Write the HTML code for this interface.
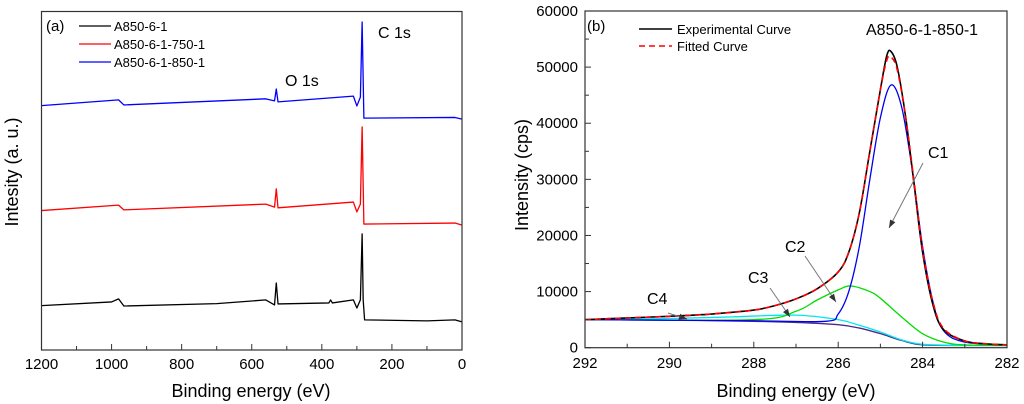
<!DOCTYPE html>
<html><head><meta charset="utf-8"><style>
html,body{margin:0;padding:0;background:#fff;width:1024px;height:404px;overflow:hidden}
svg{font-family:"Liberation Sans",Arial,sans-serif}
</style></head><body>
<svg id="chart" width="1024" height="404" viewBox="0 0 1024 404">
<g id="pa"></g>
<g id="pb"></g>
</svg>
<script>
// Panel (a) survey spectra (binding energy eV, intensity a.u. 0-100)
const aBlackE=[1200,1000,980,965,700,560,535,530,525,380,375,370,310,300,290,285,282,278,100,20,0];
const aBlackI=[13.1,14.2,15.1,13.0,13.7,14.8,13.3,19.8,13.6,13.9,14.8,13.9,14.8,12.4,14.8,34.3,14.8,8.9,8.6,8.9,8.3];
const aRedE=[1200,980,965,560,535,530,525,310,300,290,285,280,20,0];
const aRedI=[41.2,42.8,41.4,43.1,42.2,47.6,42.0,43.7,40.8,43.1,65.9,37.2,37.5,36.9];
const aBlueE=[1200,980,965,560,535,530,525,310,300,290,285,280,20,0];
const aBlueI=[72.2,73.9,72.4,74.2,73.6,77.1,73.3,75.0,72.1,74.7,96.9,68.5,68.7,68.2];
const aXTicks=[1200,1000,800,600,400,200,0];
// Panel (b) C 1s fit
const bExpE=[292,291,290,289,288,287.5,287,286.5,286,285.75,285.5,285.25,285,284.85,284.75,284.6,284.4,284.2,284,283.75,283.5,283,282.5,282];
const bExpI=[5000,5300,5600,6000,6700,7500,8700,10500,13500,17000,24000,35000,46000,52000,52800,50000,41000,29000,17000,7500,3200,1200,700,500];
const bFitE=[292,291,290,289,288,287.5,287,286.5,286,285.75,285.5,285.25,285,284.85,284.75,284.6,284.4,284.2,284,283.75,283.5,283,282.5,282];
const bFitI=[5000,5300,5600,6000,6700,7500,8700,10500,13500,17000,24000,35000,46000,51200,51800,49500,41000,29500,17500,8000,3400,1200,700,500];
const bC1E=[292,290,288,286.3,286,285.75,285.5,285.25,285,284.75,284.5,284.25,284,283.75,283.5,283,282];
const bC1I=[5000,4900,4800,4700,6000,10000,18000,30000,41000,46800,43000,32000,18000,8000,3000,1000,500];
const bC2E=[292,288,287,286.5,286,285.7,285.25,285,284.5,284,283.5,283,282];
const bC2I=[5000,5000,6500,8500,10300,11000,10000,8800,5500,2500,1000,500,400];
const bC3E=[292,290,288.5,287,286,285.5,285,284.5,284,283,282];
const bC3I=[5000,5200,5500,5800,5000,4000,2800,1400,600,400,400];
const bBgE=[292,290,288,287,286,285.5,285,284.5,284,283,282];
const bBgI=[5000,4900,4700,4500,4100,3500,2500,1300,500,400,400];
const bXTicks=[292,290,288,286,284,282];
const bYTicks=[0,10000,20000,30000,40000,50000,60000];

const NS="http://www.w3.org/2000/svg";
function mk(p,t,a,txt){const e=document.createElementNS(NS,t);for(const k in a)e.setAttribute(k,a[k]);if(txt!==undefined)e.textContent=txt;p.appendChild(e);return e;}
const pa=document.getElementById('pa'),pb=document.getElementById('pb');

const aL=41.5,aR=462,aT=11.5,aB=350;
const ax=e=>aL+(1200-e)/1200*(aR-aL), ay=v=>aB-v/100*(aB-aT);
function line(p,E,I,fx,fy,col,name,extra,smooth){
  const P=E.map((e,i)=>[fx(e),fy(I[i])]);
  let d='M'+P[0][0].toFixed(2)+','+P[0][1].toFixed(2);
  for(let i=1;i<P.length;i++){
    if(!smooth){d+='L'+P[i][0].toFixed(2)+','+P[i][1].toFixed(2);continue;}
    const p0=P[Math.max(0,i-2)],p1=P[i-1],p2=P[i],p3=P[Math.min(P.length-1,i+1)];
    const c1=[p1[0]+(p2[0]-p0[0])/6,p1[1]+(p2[1]-p0[1])/6];
    const c2=[p2[0]-(p3[0]-p1[0])/6,p2[1]-(p3[1]-p1[1])/6];
    d+='C'+c1.map(v=>v.toFixed(2)).join(',')+' '+c2.map(v=>v.toFixed(2)).join(',')+' '+p2[0].toFixed(2)+','+p2[1].toFixed(2);
  }
  const el=mk(p,'path',Object.assign({d:d,fill:'none',stroke:col,'stroke-width':1.3,'stroke-linejoin':'round'},extra||{}));
  
  
}
line(pa,aBlackE,aBlackI,ax,ay,'#000','series-a850-6-1');
line(pa,aRedE,aRedI,ax,ay,'#f00','series-a850-6-1-750-1');
line(pa,aBlueE,aBlueI,ax,ay,'#00f','series-a850-6-1-850-1');
let f=mk(pa,'rect',{x:aL,y:aT,width:aR-aL,height:aB-aT,fill:'none',stroke:'#333','stroke-width':1.2});


for(let e=1200;e>=0;e-=100){mk(pa,'line',{x1:ax(e),x2:ax(e),y1:aB,y2:aB-(e%200===0?6:4),stroke:'#333'});}
aXTicks.forEach(e=>{const t=mk(pa,'text',{x:ax(e),y:369,'font-size':15,'text-anchor':'middle'},String(e));

});
let t;
t=mk(pa,'text',{x:251,y:397,'font-size':18,'text-anchor':'middle'},'Binding energy (eV)');
t=mk(pa,'text',{x:0,y:0,'font-size':18,'text-anchor':'middle',transform:'translate(18,172) rotate(-90)'},'Intesity (a. u.)');
t=mk(pa,'text',{x:46,y:31,'font-size':15},'(a)');
t=mk(pa,'text',{x:285,y:86,'font-size':16},'O 1s');
t=mk(pa,'text',{x:378,y:38,'font-size':16},'C 1s');
[['#000','A850-6-1'],['#f00','A850-6-1-750-1'],['#00f','A850-6-1-850-1']].forEach((s,i)=>{
 const y=26+i*18;const g=mk(pa,'g',{});
 
 
 mk(g,'line',{x1:79,x2:111,y1:y,y2:y,stroke:s[0],'stroke-width':1.3});
 mk(g,'text',{x:114,y:y+5,'font-size':13},s[1]);
});

const bL=585,bR=1007,bT=11,bB=347.7;
const bx=e=>bL+(292-e)/10*(bR-bL), by=v=>bB-v/60000*(bB-bT);
line(pb,bBgE,bBgI,bx,by,'#4b2a8c','background-line',null,true);
line(pb,bC3E,bC3I,bx,by,'#00e5f0','peak-c3',null,true);
line(pb,bC2E,bC2I,bx,by,'#00dd00','peak-c2',null,true);
line(pb,bC1E,bC1I,bx,by,'#0000ee','peak-c1',null,true);
line(pb,bExpE,bExpI,bx,by,'#000','experimental-curve',{'stroke-width':1.6},true);
line(pb,bFitE,bFitI,bx,by,'#f00','fitted-curve',{'stroke-dasharray':'6,4','stroke-width':1.6},true);
f=mk(pb,'rect',{x:bL,y:bT,width:bR-bL,height:bB-bT,fill:'none',stroke:'#333','stroke-width':1.2});


for(let e=292;e>=282;e-=1){mk(pb,'line',{x1:bx(e),x2:bx(e),y1:bB,y2:bB-(e%2===0?6:4),stroke:'#333'});}
for(let v=0;v<=60000;v+=5000){mk(pb,'line',{x1:bL,x2:bL+(v%10000===0?6:4),y1:by(v),y2:by(v),stroke:'#333'});}
bXTicks.forEach(e=>{const q=mk(pb,'text',{x:bx(e),y:368,'font-size':15,'text-anchor':'middle'},String(e));

});
bYTicks.forEach(v=>{const q=mk(pb,'text',{x:578,y:by(v)+5,'font-size':15,'text-anchor':'end'},String(v));

});
t=mk(pb,'text',{x:796,y:397,'font-size':18,'text-anchor':'middle'},'Binding energy (eV)');
t=mk(pb,'text',{x:0,y:0,'font-size':18,'text-anchor':'middle',transform:'translate(528,175) rotate(-90)'},'Intensity (cps)');
t=mk(pb,'text',{x:587,y:31,'font-size':15},'(b)');
t=mk(pb,'text',{x:866,y:35,'font-size':16},'A850-6-1-850-1');
let g=mk(pb,'g',{});
mk(g,'line',{x1:639,x2:672,y1:29,y2:29,stroke:'#000','stroke-width':1.5});mk(g,'text',{x:677,y:34,'font-size':13},'Experimental Curve');
g=mk(pb,'g',{});
mk(g,'line',{x1:639,x2:672,y1:46,y2:46,stroke:'#f00','stroke-width':1.5,'stroke-dasharray':'6,4'});mk(g,'text',{x:677,y:51,'font-size':13},'Fitted Curve');
[['C1',928,158,923,163,889,228],['C2',785,252,805,256,836,302],['C3',748,283,770,288,790,317],['C4',647,304,668,313,687,319]].forEach(a=>{
 const q=mk(pb,'g',{});
 
 
 mk(q,'text',{x:a[1],y:a[2],'font-size':16},a[0]);
 mk(q,'line',{x1:a[3],y1:a[4],x2:a[5],y2:a[6],stroke:'#777','stroke-width':1});
 const ang=Math.atan2(a[6]-a[4],a[5]-a[3]);const L=8,w=3;
 const bx0=a[5]-L*Math.cos(ang),by0=a[6]-L*Math.sin(ang);
 mk(q,'polygon',{points:`${a[5]},${a[6]} ${bx0-w*Math.sin(ang)},${by0+w*Math.cos(ang)} ${bx0+w*Math.sin(ang)},${by0-w*Math.cos(ang)}`,fill:'#333'});
});
</script>
</body></html>
